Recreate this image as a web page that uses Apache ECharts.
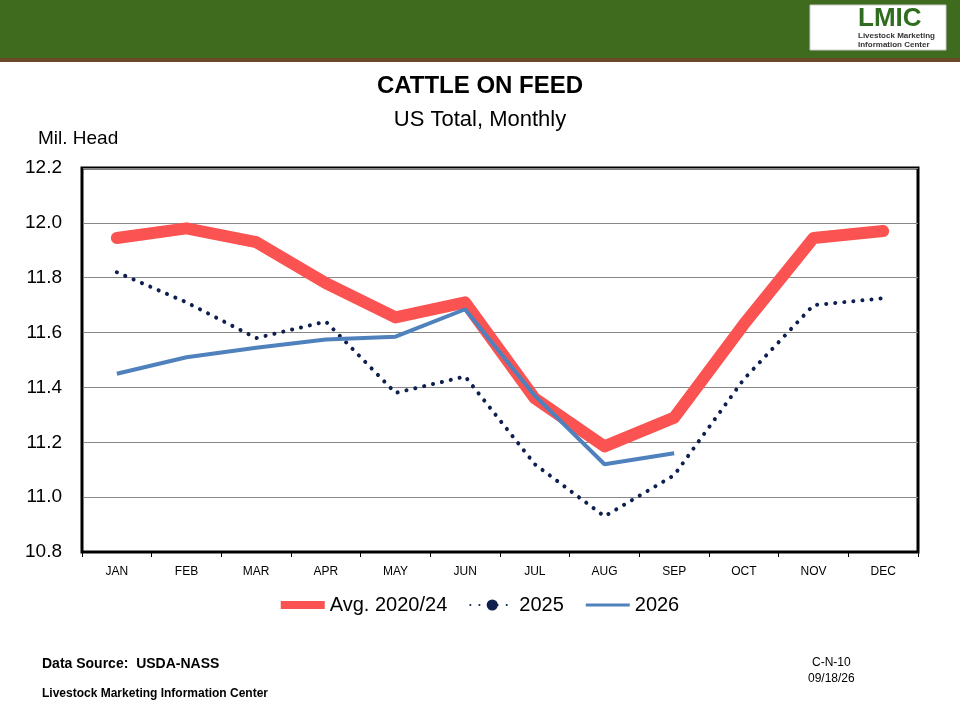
<!DOCTYPE html>
<html><head><meta charset="utf-8">
<script src="https://cdn.jsdelivr.net/npm/echarts@6/dist/echarts.min.js"></script>
<style>body{margin:0;background:#fff}#c{width:960px;height:720px}</style>
</head><body><div id="c"></div>
<script>
const months=['JAN','FEB','MAR','APR','MAY','JUN','JUL','AUG','SEP','OCT','NOV','DEC'];
const avg2024=[11.945,11.98,11.93,11.78,11.655,11.71,11.36,11.185,11.29,11.63,11.945,11.97];
const y2025=[11.82,11.71,11.58,11.64,11.38,11.44,11.12,10.93,11.08,11.43,11.70,11.725];
const y2026=[11.45,11.51,11.545,11.575,11.585,11.685,11.37,11.12,11.16];
const ch=echarts.init(document.getElementById('c'));
ch.setOption({
 animation:false,
 graphic:[
  {type:'rect',shape:{x:0,y:0,width:960,height:58},style:{fill:'#3f6b1f'}},
  {type:'rect',shape:{x:0,y:58,width:960,height:4},style:{fill:'#6b4a2a'}},
  {type:'rect',shape:{x:810,y:5,width:136,height:45},style:{fill:'#fff',stroke:'#ccc'}},
  {type:'text',left:858,top:6,style:{text:'LMIC',font:'bold 26px Arial',fill:'#2f6e1e'}},
  {type:'text',left:858,top:31,style:{text:'Livestock Marketing\nInformation Center',font:'bold 8px Arial',fill:'#333',lineHeight:9}},
  {type:'text',left:'center',top:74,style:{text:'CATTLE ON FEED',font:'bold 24px Arial',fill:'#000'}},
  {type:'text',left:'center',top:109,style:{text:'US Total, Monthly',font:'22px Arial',fill:'#000'}},
  {type:'text',left:38,top:129,style:{text:'Mil. Head',font:'19px Arial',fill:'#000'}},
  {type:'text',left:42,top:657,style:{text:'Data Source:  USDA-NASS',font:'bold 14px Arial',fill:'#000'}},
  {type:'text',left:42,top:688,style:{text:'Livestock Marketing Information Center',font:'bold 12px Arial',fill:'#000'}},
  {type:'text',left:812,top:657,style:{text:'C-N-10',font:'12px Arial',fill:'#000'}},
  {type:'text',left:808,top:673,style:{text:'09/18/26',font:'12px Arial',fill:'#000'}}
 ],
 grid:{left:82,right:42,top:168,bottom:168,show:true,borderColor:'#000',borderWidth:3},
 legend:{bottom:100,itemWidth:44,itemGap:22,textStyle:{fontSize:20,fontFamily:'Arial',color:'#000'},
  data:[{name:'Avg. 2020/24',icon:'path://M0,0 L44,0 L44,8 L0,8 Z'},'2025',{name:'2026',icon:'path://M0,0 L44,0 L44,3 L0,3 Z'}]},
 xAxis:{type:'category',data:months,boundaryGap:true,axisLine:{lineStyle:{color:'#000',width:2}},
  axisTick:{show:true,inside:false,lineStyle:{color:'#000'}},axisLabel:{color:'#000',fontSize:12,margin:14,fontFamily:'Arial'}},
 yAxis:{type:'value',min:10.8,max:12.2,interval:0.2,axisLine:{show:true,lineStyle:{color:'#000',width:2}},
  axisLabel:{color:'#000',fontSize:19,fontFamily:'Arial',formatter:v=>v.toFixed(1),margin:20},
  splitLine:{lineStyle:{color:'#888',width:1}}},
 series:[
  {name:'Avg. 2020/24',type:'line',data:avg2024,symbol:'none',lineStyle:{color:'#fb5252',width:12,cap:'round',join:'round'},itemStyle:{color:'#fb5252'}},
  {name:'2025',type:'line',data:y2025,symbol:'none',lineStyle:{color:'#0e1f4f',width:4,type:[0.1,9],cap:'round'},itemStyle:{color:'#0e1f4f'}},
  {name:'2026',type:'line',data:y2026,symbol:'none',lineStyle:{color:'#4f81bd',width:4},itemStyle:{color:'#4f81bd'}}
 ]
});
</script></body></html>
